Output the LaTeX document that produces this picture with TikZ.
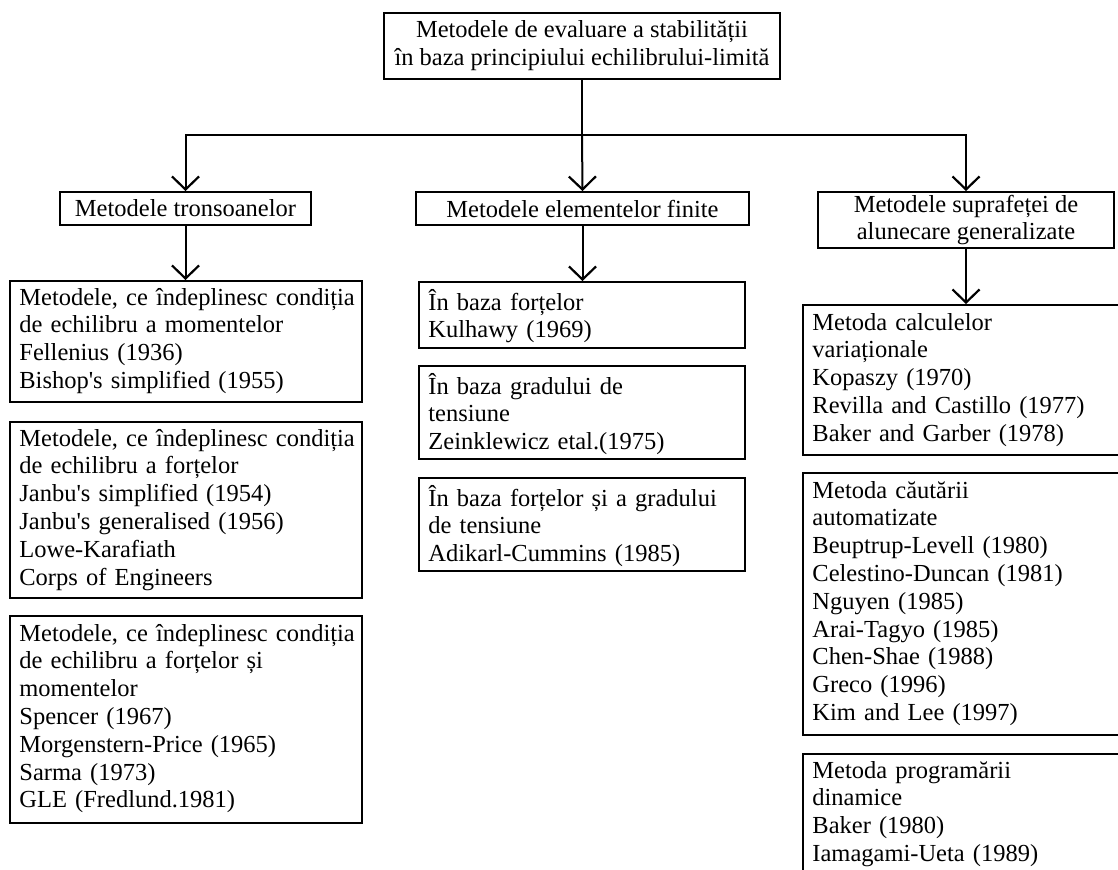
\documentclass[tikz,border=0pt]{standalone}
\usepackage{fontspec}
\setmainfont{Liberation Serif}
\usetikzlibrary{arrows.meta}
\begin{document}
\begin{tikzpicture}[x=0.5pt,y=-0.5pt,
  every node/.style={font=\fontsize{12.25}{13.9}\selectfont},
  frame/.style={draw, line width=1pt, inner sep=0pt},
  boxn/.style={frame, anchor=north west},
  head/.style={frame, align=center},
  txt/.style={anchor=base west, inner sep=0pt, align=left, text width=240pt},
  arr/.style={line width=1pt, -{Straight Barb[length=6.5pt, width=13.5pt, line width=1.1pt]}},
  link/.style={line width=1pt}]
\useasboundingbox (0,0) rectangle (1118,869);
\clip (0,0) rectangle (1118,869);
% top
\node[head, minimum width=198pt, minimum height=33pt] (top) at (582,46)
  {Metodele de evaluare a stabilității\\în baza principiului echilibrului-limită};
% headers
\node[head, minimum width=125.5pt, minimum height=16.5pt] (lh) at (185.5,208.5) {Metodele tronsoanelor};
\node[head, minimum width=166.5pt, minimum height=16.5pt] (mh) at (582.5,208.5) {Metodele elementelor finite};
\node[head, minimum width=148pt, minimum height=28pt] (rh) at (966,220) {Metodele suprafeței de\\alunecare generalizate};
% left boxes
\node[boxn, minimum width=176pt, minimum height=60.5pt] (l1) at (9,280) {};
\node[boxn, minimum width=176pt, minimum height=88pt] (l2) at (9,421) {};
\node[boxn, minimum width=176pt, minimum height=103.5pt] (l3) at (9,615) {};
% middle boxes
\node[boxn, minimum width=163pt, minimum height=33pt] (m1) at (418,281) {};
\node[boxn, minimum width=163pt, minimum height=46.5pt] (m2) at (418,365) {};
\node[boxn, minimum width=163pt, minimum height=46.5pt] (m3) at (418,477) {};
% right boxes
\node[boxn, minimum width=165pt, minimum height=75pt] (r1) at (802,304) {};
\node[boxn, minimum width=165pt, minimum height=131pt] (r2) at (802,472) {};
\node[boxn, minimum width=165pt, minimum height=65pt] (r3) at (802,753) {};
% texts
\node[txt] (l1t) at (19,305) {Metodele, ce îndeplinesc condiția\\de echilibru a momentelor\\Fellenius (1936)\\Bishop\textquotesingle s simplified (1955)};
\node[txt] (l2t) at (19,446) {Metodele, ce îndeplinesc condiția\\de echilibru a forțelor\\Janbu\textquotesingle s simplified (1954)\\Janbu\textquotesingle s generalised (1956)\\Lowe-Karafiath\\Corps of Engineers};
\node[txt] (l3t) at (19,641) {Metodele, ce îndeplinesc condiția\\de echilibru a forțelor și\\momentelor\\Spencer (1967)\\Morgenstern-Price (1965)\\Sarma (1973)\\GLE (Fredlund.1981)};
\node[txt] (m1t) at (428,310) {În baza forțelor\\Kulhawy (1969)};
\node[txt] (m2t) at (428,394) {În baza gradului de\\tensiune\\Zeinklewicz etal.(1975)};
\node[txt] (m3t) at (428,506) {În baza forțelor și a gradului\\de tensiune\\Adikarl-Cummins (1985)};
\node[txt] (r1t) at (812,330) {Metoda calculelor\\variaționale\\Kopaszy (1970)\\Revilla and Castillo (1977)\\Baker and Garber (1978)};
\node[txt] (r2t) at (812,498) {Metoda căutării\\automatizate\\Beuptrup-Levell (1980)\\Celestino-Duncan (1981)\\Nguyen (1985)\\Arai-Tagyo (1985)\\Chen-Shae (1988)\\Greco (1996)\\Kim and Lee (1997)};
\node[txt] (r3t) at (812,778) {Metoda programării\\dinamice\\Baker (1980)\\Iamagami-Ueta (1989)};
% connectors
\coordinate (j) at (582,135);
\draw[link] (top.south) -- (j);
\draw[arr] (j) -| (lh.north);
\draw[arr] (j) -| (rh.north);
\draw[arr] (j) -- (mh.north);
\draw[arr] (lh.south) -- (lh.south |- l1.north);
\draw[arr] (mh.south) -- (mh.south |- m1.north);
\draw[arr] (rh.south) -- (rh.south |- r1.north);
\end{tikzpicture}
\end{document}
